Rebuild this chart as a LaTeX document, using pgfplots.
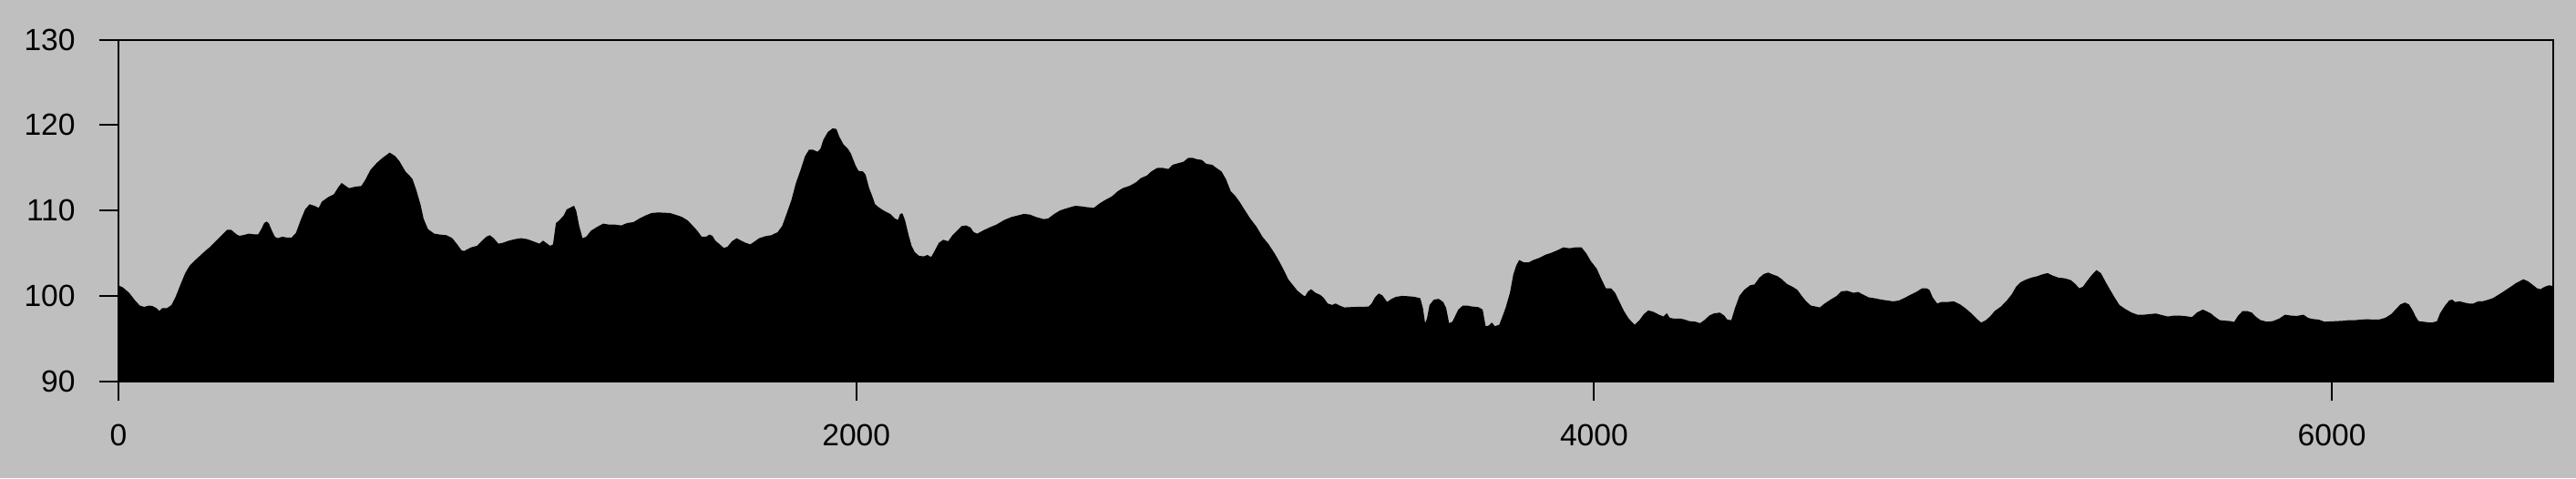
\documentclass[border=0pt]{standalone}
\usepackage{pgfplots}
\pgfplotsset{compat=1.18}
\usepackage{fontspec}
\setmainfont{Liberation Sans}
\definecolor{bgc}{RGB}{191,191,191}

\begin{document}
\begin{tikzpicture}
% background of the whole figure, also fixes its size
\fill[bgc] (-65pt,-53pt) rectangle (1348.5pt,209.5pt);
\begin{axis}[
    scale only axis,
    width=1336pt, height=187.75pt,
    xmin=0, xmax=6600, ymin=90, ymax=130,
    xtick={0,2000,4000,6000},
    ytick={90,100,110,120,130},
    tick align=outside,
    xtick pos=bottom, ytick pos=left,
    major tick length=10.5pt,
    axis line style={line width=1pt},
    every tick/.style={black, line width=1pt},
    axis on top,
    axis background/.style={fill=bgc},
    font=\fontsize{16.8}{20}\selectfont,
    /pgf/number format/assume math mode=true,
    /pgf/number format/set thousands separator={},
    xticklabel style={inner sep=0pt, anchor=north},
    yticklabel style={inner sep=0pt, anchor=east},
    xticklabel shift=13pt,
    yticklabel shift=13pt,
]
\addplot[fill=black, draw=none] coordinates {
(0,101.26) (12,101.01) (29,100.38) (45,99.49) (58,98.88) (70,98.74) (82,98.88) (91,98.85)
(103,98.60) (111,98.25) (119,98.60) (132,98.60) (144,98.96) (156,100.02) (169,101.44) (181,102.68)
(193,103.57) (210,104.28) (226,104.92) (239,105.42) (247,105.70) (259,106.23) (272,106.77) (284,107.30)
(295,107.76) (305,107.76) (313,107.48) (321,107.19) (328,107.05) (337,107.12) (354,107.30) (366,107.23)
(379,107.23) (388,107.90) (395,108.54) (402,108.72) (408,108.47) (416,107.65) (424,106.94) (432,106.77)
(444,106.94) (457,106.84) (469,106.84) (481,107.37) (494,108.90) (506,110.14) (518,110.74) (531,110.56)
(543,110.32) (551,111.03) (568,111.56) (584,111.91) (597,112.80) (605,113.23) (613,112.98) (625,112.62)
(642,112.80) (658,112.87) (668,113.51) (683,114.75) (700,115.57) (716,116.17) (735,116.78) (749,116.42)
(761,115.82) (778,114.58) (790,114.04) (797,113.69) (807,112.45) (819,110.67) (827,109.07) (839,107.83)
(856,107.30) (872,107.19) (889,107.12) (905,106.77) (918,106.06) (930,105.35) (938,105.27)
(943,105.42) (956,105.70) (972,105.88) (984,106.41) (997,106.94) (1007,107.12) (1017,106.77) (1030,106.13)
(1042,106.23) (1058,106.48) (1075,106.66) (1091,106.77) (1108,106.66) (1124,106.41) (1141,106.13) (1151,106.48)
(1159,106.23) (1170,105.88) (1178,106.05) (1186,108.54) (1194,108.82) (1207,109.43) (1215,110.14) (1227,110.39)
(1235,110.56) (1241,109.96) (1249,108.19) (1258,106.77) (1268,106.94) (1281,107.65) (1297,108.08) (1314,108.47)
(1330,108.36) (1346,108.36) (1363,108.26) (1379,108.54) (1396,108.65) (1412,109.07) (1429,109.43) (1445,109.71)
(1462,109.78) (1478,109.75) (1495,109.71) (1511,109.50) (1528,109.25) (1544,108.82) (1556,108.26) (1569,107.65)
(1581,106.94) (1593,106.94) (1602,107.19) (1610,107.05) (1618,106.48) (1630,106.05) (1641,105.63) (1651,105.77)
(1663,106.41) (1676,106.77) (1688,106.48) (1700,106.23) (1713,106.05) (1725,106.41) (1737,106.77) (1754,107.01)
(1770,107.12) (1787,107.48) (1799,108.19) (1811,109.61) (1824,111.20) (1836,113.16) (1849,114.75) (1861,116.35)
(1872,117.13) (1882,117.13)
(1886,117.06) (1895,116.88) (1903,117.24) (1911,118.30) (1923,119.19) (1936,119.62) (1946,119.55) (1954,118.66)
(1965,117.77) (1977,117.24) (1985,116.71) (1998,115.29) (2006,114.65) (2018,114.58) (2025,114.22) (2035,112.62)
(2043,111.74) (2051,110.74) (2063,110.32) (2076,109.96) (2092,109.61) (2105,109.07) (2113,108.90) (2119,109.61)
(2125,109.68) (2132,108.90) (2142,107.12) (2150,105.88) (2158,105.17) (2170,104.71) (2183,104.64) (2193,104.81)
(2203,104.56) (2211,105.17) (2224,106.23) (2236,106.59) (2249,106.41) (2261,107.12) (2273,107.65) (2286,108.19)
(2298,108.26) (2310,108.01) (2318,107.48) (2328,107.30) (2343,107.65) (2360,108.01) (2380,108.36) (2401,108.90)
(2421,109.25) (2438,109.43) (2454,109.61) (2471,109.53) (2487,109.25) (2508,109.00) (2520,109.07) (2537,109.61)
(2553,110.03) (2574,110.32) (2594,110.56) (2611,110.49) (2627,110.39) (2644,110.32) (2660,110.85) (2676,111.27)
(2693,111.66) (2709,112.27) (2722,112.62) (2742,112.91) (2759,113.33) (2771,113.79) (2788,114.11) (2800,114.58)
(2816,115.00)
(2830,115.00) (2846,114.86) (2858,115.36) (2875,115.57) (2887,115.71) (2900,116.17) (2912,116.17) (2924,116.00)
(2937,115.92) (2949,115.46) (2965,115.36) (2978,114.93) (2990,114.58) (3002,113.69) (3015,112.27) (3027,111.74)
(3039,111.03) (3052,110.14) (3068,109.07) (3085,108.11) (3101,106.94) (3118,106.05) (3134,104.99) (3146,104.10)
(3159,103.04) (3171,101.97) (3184,101.26) (3196,100.62) (3208,100.20) (3216,99.95) (3225,100.55) (3233,100.80)
(3245,100.38) (3258,100.13) (3266,99.84) (3278,99.13) (3290,98.96) (3299,99.13) (3311,98.88) (3323,98.67)
(3340,98.71) (3356,98.74) (3373,98.74) (3389,98.78) (3397,99.13) (3406,99.84) (3416,100.30) (3426,100.09)
(3439,99.31) (3451,99.67) (3463,99.91) (3480,100.02) (3496,99.98) (3513,99.91) (3529,99.74) (3536,98.60)
(3542,96.83) (3547,97.36) (3554,98.96) (3566,99.59) (3579,99.67) (3591,99.31) (3599,98.60) (3607,96.83)
(3616,97.00) (3624,97.71) (3632,98.42) (3644,98.88) (3657,98.88) (3669,98.78) (3686,98.71) (3698,98.42)
(3706,96.47) (3714,96.54) (3723,96.90) (3731,96.47) (3743,96.65) (3751,97.54) (3760,98.60) (3772,100.38)
(3781,102.51) (3789,103.57) (3797,104.21) (3810,103.93) (3822,103.93) (3835,104.21) (3851,104.46) (3867,104.81)
(3884,105.06) (3900,105.35) (3917,105.70) (3933,105.59) (3950,105.70) (3966,105.70) (3979,104.99) (3991,104.10)
(4007,103.22) (4020,101.97) (4032,100.91) (4046,100.91) (4057,100.38) (4069,99.31) (4081,98.25) (4094,97.36)
(4110,96.65) (4123,97.18) (4135,97.89) (4147,98.32) (4160,98.17) (4176,97.82) (4188,97.61) (4197,98.00)
(4205,97.46) (4217,97.36) (4234,97.36) (4246,97.25) (4258,97.07) (4275,97.00) (4287,96.83) (4299,97.18)
(4312,97.71) (4324,97.96) (4341,98.07) (4353,97.71) (4361,97.25) (4372,97.18) (4382,98.60) (4394,100.02)
(4407,100.73) (4423,101.26) (4435,101.37) (4448,102.15) (4460,102.58) (4472,102.75) (4485,102.51) (4497,102.33)
(4509,101.97) (4522,101.44) (4538,101.09) (4551,100.73) (4563,100.02) (4575,99.38) (4588,98.88) (4600,98.78)
(4612,98.67) (4625,99.13) (4641,99.59) (4658,100.02) (4670,100.55) (4686,100.62) (4703,100.38)
(4716,100.48) (4728,100.20) (4745,99.84) (4761,99.74) (4778,99.59) (4794,99.49) (4811,99.38) (4827,99.49)
(4844,99.84) (4860,100.20) (4876,100.55) (4889,100.91) (4901,100.91) (4909,100.73) (4918,99.84) (4930,99.13)
(4942,99.31) (4959,99.31) (4975,99.38) (4992,99.03) (5008,98.53) (5025,97.89) (5037,97.36) (5049,96.90)
(5062,97.18) (5074,97.64) (5086,98.25) (5103,98.78) (5119,99.49) (5132,100.20) (5144,101.09) (5156,101.62)
(5169,101.90) (5185,102.15) (5202,102.33) (5218,102.58) (5230,102.68) (5243,102.40) (5259,102.15) (5276,102.08)
(5292,101.87) (5304,101.44) (5315,100.91) (5325,101.09) (5337,101.80) (5350,102.51) (5362,103.04) (5374,102.68)
(5387,101.62) (5399,100.73) (5411,99.84) (5424,98.96) (5440,98.49) (5457,98.07) (5473,97.82) (5490,97.82)
(5506,97.89) (5523,97.96) (5539,97.78) (5555,97.61) (5572,97.71) (5588,97.71) (5605,97.64) (5621,97.54)
(5634,98.07) (5650,98.42)
(5659,98.25) (5672,97.96) (5684,97.54) (5696,97.18) (5713,97.11) (5725,97.07) (5735,96.97) (5746,97.71)
(5758,98.25) (5770,98.25) (5783,98.07) (5795,97.54) (5807,97.18) (5824,97.00) (5840,97.07) (5857,97.36)
(5873,97.82) (5890,97.71) (5906,97.68) (5923,97.82) (5935,97.46) (5947,97.32) (5964,97.25) (5980,97.00)
(5997,97.04) (6013,97.07) (6030,97.11) (6046,97.18) (6063,97.18) (6079,97.25) (6096,97.29) (6112,97.25)
(6128,97.25) (6145,97.46) (6161,97.89) (6174,98.49) (6186,99.03) (6198,99.24) (6209,99.03) (6219,98.32)
(6227,97.61) (6235,97.07) (6248,97.00) (6260,96.93) (6272,96.90) (6285,97.07) (6293,97.96) (6305,98.78)
(6318,99.49) (6326,99.59) (6334,99.31) (6347,99.38) (6359,99.24) (6371,99.13) (6384,99.13) (6396,99.38)
(6408,99.38) (6425,99.59) (6437,99.77) (6449,100.09) (6466,100.55) (6482,101.01) (6499,101.51) (6519,101.97)
(6532,101.72) (6544,101.33) (6556,100.91) (6565,100.80) (6577,101.09) (6589,101.26) (6600,101.16)
} \closedcycle;
\end{axis}
\end{tikzpicture}
\end{document}
